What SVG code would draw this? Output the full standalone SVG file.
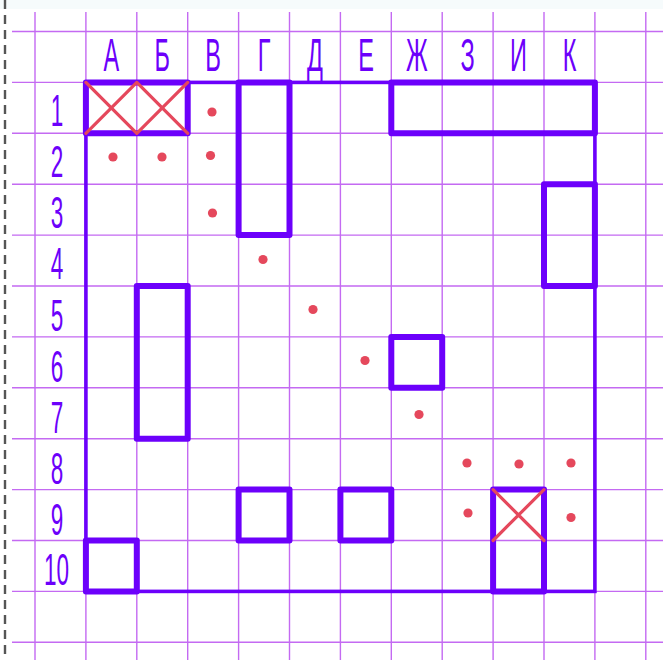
<svg xmlns="http://www.w3.org/2000/svg" width="663" height="660" viewBox="0 0 663 660">
<style>
.grid{stroke:#c46af2;stroke-width:1.4;fill:none}
.field{stroke:#6c00fb;stroke-width:3.6;fill:none;stroke-linejoin:miter}
.ship{stroke:#6c00fb;stroke-width:6;fill:none;stroke-linejoin:round}
.hit{stroke:#e5485c;stroke-width:3.2;stroke-linecap:round}
.miss{fill:#e5485c}
.lbl{font-family:"Liberation Sans",Arial,sans-serif;fill:#6c00fb;text-anchor:middle}
.col{font-size:47px}
.row{font-size:45px}
</style>
<rect width="663" height="660" fill="#ffffff"/>
<rect width="663" height="9" fill="#f6fbfc"/>
<line x1="5" y1="0" x2="5" y2="660" stroke="#555555" stroke-width="2.4" stroke-dasharray="9 6"/>
<g id="grid" class="grid">
<path d="M35 12V660M85.9 12V660M136.8 12V660M187.7 12V660M238.6 12V660M289.5 12V660M340.4 12V660M391.3 12V660M442.2 12V660M493.1 12V660M544 12V660M594.9 12V660M645.8 12V660"/>
<path d="M12 31.5H663M12 82.4H663M12 133.3H663M12 184.2H663M12 235.1H663M12 286H663M12 336.9H663M12 387.8H663M12 438.7H663M12 489.6H663M12 540.5H663M12 591.4H663M12 642.3H663"/>
</g>
<g id="labels" class="lbl" transform="scale(0.5 1)">
<g class="col">
<text x="222.8" y="71">А</text>
<text x="324.6" y="71">Б</text>
<text x="426.4" y="71">В</text>
<text x="528" y="71">Г</text>
<text x="630" y="71">Д</text>
<text x="732" y="71">Е</text>
<text x="833.6" y="71">Ж</text>
<text x="935.4" y="71">З</text>
<text x="1037" y="71">И</text>
<text x="1139" y="71">К</text>
</g>
<g class="row">
<text x="114" y="126">1</text>
<text x="114" y="177">2</text>
<text x="114" y="228">3</text>
<text x="114" y="279">4</text>
<text x="114" y="331">5</text>
<text x="114" y="382">6</text>
<text x="114" y="433">7</text>
<text x="114" y="484">8</text>
<text x="114" y="535">9</text>
<text x="113" y="585">10</text>
</g>
</g>
<g id="field">
<rect class="field" x="85.9" y="82.4" width="509" height="509"/>
</g>
<g id="ships">
<rect id="ship-a1b1" class="ship" x="85.9" y="82.4" width="101.8" height="50.9"/>
<rect id="ship-g1g3" class="ship" x="238.6" y="82.4" width="50.9" height="152.7"/>
<rect id="ship-zh1k1" class="ship" x="391.3" y="82.4" width="203.6" height="50.9"/>
<rect id="ship-k3k4" class="ship" x="544" y="184.2" width="50.9" height="101.8"/>
<rect id="ship-b5b7" class="ship" x="136.8" y="286" width="50.9" height="152.7"/>
<rect id="ship-zh6" class="ship" x="391.3" y="336.9" width="50.9" height="50.9"/>
<rect id="ship-g9" class="ship" x="238.6" y="489.6" width="50.9" height="50.9"/>
<rect id="ship-e9" class="ship" x="340.4" y="489.6" width="50.9" height="50.9"/>
<rect id="ship-i9i10" class="ship" x="493.1" y="489.6" width="50.9" height="101.8"/>
<rect id="ship-a10" class="ship" x="85.9" y="540.5" width="50.9" height="50.9"/>
</g>
<g id="hits" class="hit">
<path d="M85.9 82.4L136.8 133.3M136.8 82.4L85.9 133.3M136.8 82.4L187.7 133.3M187.7 82.4L136.8 133.3M493.1 489.6L544 540.5M544 489.6L493.1 540.5"/>
</g>
<g id="misses" class="miss">
<circle cx="212" cy="112" r="4.6"/>
<circle cx="113" cy="157" r="4.6"/>
<circle cx="162" cy="157" r="4.6"/>
<circle cx="210.5" cy="155.5" r="4.6"/>
<circle cx="212.5" cy="213" r="4.6"/>
<circle cx="263" cy="259.5" r="4.6"/>
<circle cx="313" cy="309.5" r="4.6"/>
<circle cx="365" cy="360.5" r="4.6"/>
<circle cx="419" cy="414.5" r="4.6"/>
<circle cx="467" cy="463" r="4.6"/>
<circle cx="519" cy="464" r="4.6"/>
<circle cx="571" cy="463" r="4.6"/>
<circle cx="468" cy="513" r="4.6"/>
<circle cx="571" cy="517.5" r="4.6"/>
</g>
</svg>
